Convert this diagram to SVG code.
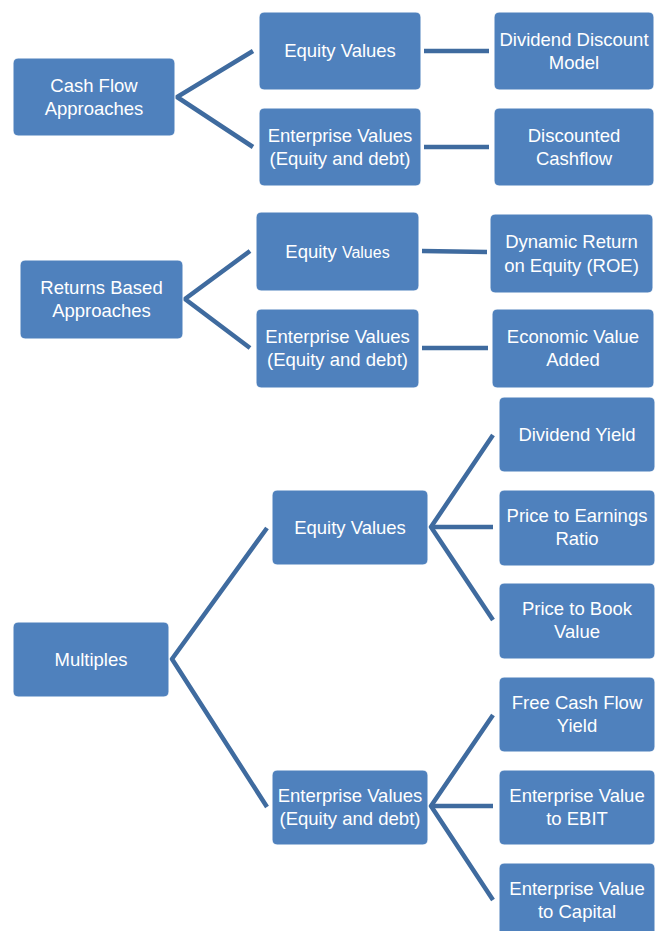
<svg xmlns="http://www.w3.org/2000/svg" width="655" height="931" viewBox="0 0 655 931">
<style>
.box{fill:#4f81bd;stroke:#ffffff;stroke-width:1}
.t{font-family:"Liberation Sans",Arial,sans-serif;font-size:18.5px;fill:#ffffff;text-anchor:middle}
.c{stroke:#3f6b9f;stroke-width:4.5;fill:none;stroke-linecap:butt;stroke-linejoin:miter}
</style>
<rect width="655" height="931" fill="#ffffff"/>
<g id="connectors">
<polyline class="c" points="253,51 177,97 253,147"/>
<line class="c" x1="424" y1="51" x2="489" y2="51"/>
<line class="c" x1="424" y1="147" x2="489" y2="147"/>
<polyline class="c" points="250,251 185,299 250,348"/>
<line class="c" x1="422" y1="251" x2="487" y2="252"/>
<line class="c" x1="422" y1="348" x2="488" y2="348"/>
<polyline class="c" points="267,528 172,659 267,807"/>
<polyline class="c" points="493,435 431,527 493,620"/>
<line class="c" x1="431" y1="527" x2="493" y2="527"/>
<polyline class="c" points="493,715 431,806 493,900"/>
<line class="c" x1="431" y1="806" x2="493" y2="806"/>
</g>
<g id="cashflow"><rect class="box" x="13" y="58" width="162" height="78" rx="5"/><text class="t" x="94" y="91.5">Cash Flow</text><text class="t" x="94" y="114.5">Approaches</text></g>
<g id="cf-equity"><rect class="box" x="259" y="12" width="162" height="78" rx="5"/><text class="t" x="340" y="57">Equity Values</text></g>
<g id="cf-enterprise"><rect class="box" x="259" y="108" width="162" height="78" rx="5"/><text class="t" x="340" y="142">Enterprise Values</text><text class="t" x="340" y="165">(Equity and debt)</text></g>
<g id="ddm"><rect class="box" x="494" y="12" width="160" height="78" rx="5"/><text class="t" x="574" y="45.5">Dividend Discount</text><text class="t" x="574" y="68.5">Model</text></g>
<g id="dcf"><rect class="box" x="494" y="108" width="160" height="78" rx="5"/><text class="t" x="574" y="141.5">Discounted</text><text class="t" x="574" y="164.5">Cashflow</text></g>
<g id="returns"><rect class="box" x="20" y="260" width="163" height="79" rx="5"/><text class="t" x="101.5" y="294">Returns Based</text><text class="t" x="101.5" y="317">Approaches</text></g>
<g id="rb-equity"><rect class="box" x="256" y="212" width="163" height="79" rx="5"/><text class="t" x="337.5" y="258">Equity <tspan font-size="16">Values</tspan></text></g>
<g id="rb-enterprise"><rect class="box" x="256" y="309" width="163" height="79" rx="5"/><text class="t" x="337.5" y="343">Enterprise Values</text><text class="t" x="337.5" y="366">(Equity and debt)</text></g>
<g id="roe"><rect class="box" x="490" y="214" width="163" height="79" rx="5"/><text class="t" x="571.5" y="248">Dynamic Return</text><text class="t" x="571.5" y="272">on Equity (ROE)</text></g>
<g id="eva"><rect class="box" x="492" y="309" width="162" height="79" rx="5"/><text class="t" x="573" y="343">Economic Value</text><text class="t" x="573" y="366">Added</text></g>
<g id="multiples"><rect class="box" x="13" y="622" width="156" height="75" rx="5"/><text class="t" x="91" y="666">Multiples</text></g>
<g id="m-equity"><rect class="box" x="272" y="490" width="156" height="75" rx="5"/><text class="t" x="350" y="534">Equity Values</text></g>
<g id="m-enterprise"><rect class="box" x="272" y="770" width="156" height="75" rx="5"/><text class="t" x="350" y="802">Enterprise Values</text><text class="t" x="350" y="825">(Equity and debt)</text></g>
<g id="divyield"><rect class="box" x="499" y="397" width="156" height="75" rx="5"/><text class="t" x="577" y="441">Dividend Yield</text></g>
<g id="pe"><rect class="box" x="499" y="490" width="156" height="76" rx="5"/><text class="t" x="577" y="522">Price to Earnings</text><text class="t" x="577" y="545">Ratio</text></g>
<g id="pb"><rect class="box" x="499" y="583" width="156" height="76" rx="5"/><text class="t" x="577" y="615">Price to Book</text><text class="t" x="577" y="638">Value</text></g>
<g id="fcf"><rect class="box" x="499" y="677" width="156" height="75" rx="5"/><text class="t" x="577" y="709">Free Cash Flow</text><text class="t" x="577" y="732">Yield</text></g>
<g id="ebit"><rect class="box" x="499" y="770" width="156" height="75" rx="5"/><text class="t" x="577" y="802">Enterprise Value</text><text class="t" x="577" y="825">to EBIT</text></g>
<g id="capital"><rect class="box" x="499" y="863" width="156" height="75" rx="5"/><text class="t" x="577" y="895">Enterprise Value</text><text class="t" x="577" y="918">to Capital</text></g>
</svg>
